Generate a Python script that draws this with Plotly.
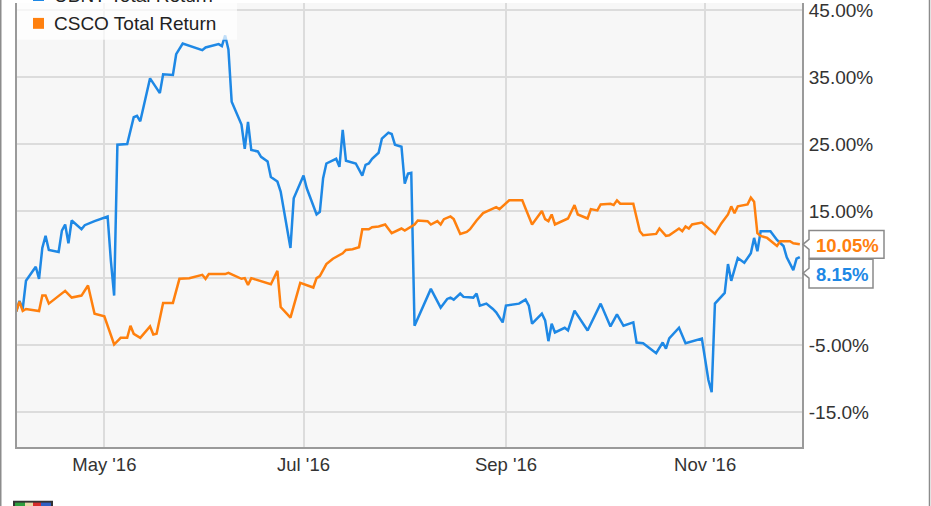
import plotly.graph_objects as go

# ---------------- data (total return, %) ----------------
other_name = "UBNT Total Return"
csco_name = "CSCO Total Return"

other_dates = [
    "2016-04-04", "2016-04-05", "2016-04-06", "2016-04-07", "2016-04-10", "2016-04-11",
    "2016-04-12", "2016-04-13", "2016-04-14", "2016-04-17", "2016-04-18", "2016-04-19",
    "2016-04-20", "2016-04-21", "2016-04-24", "2016-04-25", "2016-04-28", "2016-05-02",
    "2016-05-03", "2016-05-04", "2016-05-05", "2016-05-08", "2016-05-10", "2016-05-11",
    "2016-05-12", "2016-05-15", "2016-05-18", "2016-05-19", "2016-05-22", "2016-05-23",
    "2016-05-25", "2016-05-31", "2016-06-01", "2016-06-05", "2016-06-06", "2016-06-07",
    "2016-06-08", "2016-06-09", "2016-06-12", "2016-06-13", "2016-06-14", "2016-06-15",
    "2016-06-17", "2016-06-18", "2016-06-20", "2016-06-21", "2016-06-23", "2016-06-24",
    "2016-06-27", "2016-06-28", "2016-07-01", "2016-07-02", "2016-07-05", "2016-07-06",
    "2016-07-07", "2016-07-08", "2016-07-11", "2016-07-12", "2016-07-13", "2016-07-14",
    "2016-07-17", "2016-07-19", "2016-07-20", "2016-07-21", "2016-07-22", "2016-07-24",
    "2016-07-25", "2016-07-27", "2016-07-28", "2016-07-29", "2016-07-31", "2016-08-01",
    "2016-08-02", "2016-08-03", "2016-08-04", "2016-08-07", "2016-08-09", "2016-08-12",
    "2016-08-14", "2016-08-15", "2016-08-16", "2016-08-18", "2016-08-19", "2016-08-22",
    "2016-08-23", "2016-08-24", "2016-08-26", "2016-08-28", "2016-08-29", "2016-08-31",
    "2016-09-01", "2016-09-05", "2016-09-07", "2016-09-08", "2016-09-09", "2016-09-12",
    "2016-09-13", "2016-09-14", "2016-09-15", "2016-09-16", "2016-09-19", "2016-09-20",
    "2016-09-22", "2016-09-26", "2016-09-30", "2016-10-03", "2016-10-05", "2016-10-07",
    "2016-10-10", "2016-10-11", "2016-10-13", "2016-10-17", "2016-10-19", "2016-10-20",
    "2016-10-21", "2016-10-24", "2016-10-26", "2016-10-31", "2016-11-02", "2016-11-03",
    "2016-11-04", "2016-11-07", "2016-11-08", "2016-11-09", "2016-11-11", "2016-11-13",
    "2016-11-15", "2016-11-16", "2016-11-17", "2016-11-18", "2016-11-21", "2016-11-23",
    "2016-11-25", "2016-11-26", "2016-11-28", "2016-11-29", "2016-11-30",
]
other_values = [
    0.0, 1.6, 0.4, 4.6, 6.7, 4.9,
    9.5, 11.3, 9.2, 8.9, 12.1, 13.0,
    10.2, 13.6, 12.3, 12.9, 13.5, 14.2,
    7.6, 2.4, 24.9, 25.0, 29.0, 29.2,
    28.4, 34.8, 32.6, 35.4, 35.3, 38.4,
    40.0, 39.0, 39.4, 39.9, 39.6, 41.2,
    39.1, 31.3, 27.9, 24.3, 28.3, 24.1,
    23.9, 23.1, 22.4, 20.1, 19.4, 17.9,
    9.5, 16.9, 20.3, 18.4, 14.5, 14.9,
    19.9, 22.1, 22.8, 21.6, 27.1, 22.5,
    22.1, 20.3, 21.9, 22.1, 22.8, 23.7,
    25.8, 26.7, 26.5, 24.9, 24.6, 19.1,
    20.6, 20.7, -2.1, 1.2, 3.4, 0.6,
    1.9, 2.1, 1.8, 2.7, 2.2, 2.1,
    2.7, 0.9, 1.2, 0.4, -0.1, -1.6,
    0.9, 1.2, 1.8, 0.9, -1.8, -0.3,
    -1.3, -4.4, -1.8, -3.1, -2.4, -2.8,
    0.15, -2.8, 1.2, -2.2, -0.4, -2.1,
    -1.6, -4.6, -4.7, -6.2, -4.6, -5.5,
    -4.0, -2.4, -4.7, -4.0, -10.2, -12.0,
    1.2, 2.8, 7.1, 4.6, 8.0, 7.3,
    8.7, 11.0, 9.0, 12.0, 12.0, 10.7,
    9.8, 8.1, 6.2, 7.9, 8.15,
]

csco_dates = [
    "2016-04-04", "2016-04-05", "2016-04-06", "2016-04-07", "2016-04-11", "2016-04-12",
    "2016-04-13", "2016-04-14", "2016-04-19", "2016-04-21", "2016-04-24", "2016-04-26",
    "2016-04-28", "2016-05-01", "2016-05-04", "2016-05-06", "2016-05-08", "2016-05-09",
    "2016-05-10", "2016-05-12", "2016-05-15", "2016-05-16", "2016-05-17", "2016-05-19",
    "2016-05-22", "2016-05-24", "2016-05-27", "2016-05-31", "2016-06-01", "2016-06-02",
    "2016-06-07", "2016-06-08", "2016-06-12", "2016-06-13", "2016-06-14", "2016-06-15",
    "2016-06-21", "2016-06-23", "2016-06-24", "2016-06-27", "2016-06-30", "2016-07-04",
    "2016-07-05", "2016-07-06", "2016-07-08", "2016-07-10", "2016-07-13", "2016-07-14",
    "2016-07-16", "2016-07-18", "2016-07-19", "2016-07-21", "2016-07-22", "2016-07-24",
    "2016-07-26", "2016-07-28", "2016-07-31", "2016-08-01", "2016-08-04", "2016-08-05",
    "2016-08-08", "2016-08-09", "2016-08-11", "2016-08-12", "2016-08-13", "2016-08-15",
    "2016-08-16", "2016-08-18", "2016-08-20", "2016-08-21", "2016-08-23", "2016-08-24",
    "2016-08-25", "2016-08-29", "2016-08-30", "2016-09-02", "2016-09-06", "2016-09-07",
    "2016-09-09", "2016-09-12", "2016-09-13", "2016-09-14", "2016-09-15", "2016-09-16",
    "2016-09-20", "2016-09-22", "2016-09-23", "2016-09-26", "2016-09-27", "2016-09-29",
    "2016-09-30", "2016-10-03", "2016-10-04", "2016-10-05", "2016-10-06", "2016-10-10",
    "2016-10-12", "2016-10-13", "2016-10-17", "2016-10-18", "2016-10-20", "2016-10-21",
    "2016-10-24", "2016-10-25", "2016-10-26", "2016-10-27", "2016-10-28", "2016-10-31",
    "2016-11-02", "2016-11-04", "2016-11-06", "2016-11-08", "2016-11-09", "2016-11-10",
    "2016-11-11", "2016-11-14", "2016-11-15", "2016-11-16", "2016-11-17", "2016-11-18",
    "2016-11-20", "2016-11-23", "2016-11-24", "2016-11-27", "2016-11-28", "2016-11-30",
]
csco_values = [
    0.0, 1.5, 0.1, 0.4, 0.1, 2.4,
    2.4, 1.2, 3.1, 2.1, 2.4, 3.9,
    -0.3, -0.7, -4.9, -3.9, -3.9, -2.1,
    -3.3, -3.9, -2.2, -3.4, -3.3, 1.3,
    1.3, 4.9, 5.0, 5.5, 4.9, 5.6,
    5.6, 5.8, 4.9, 5.0, 4.0, 5.0,
    4.1, 6.1, 0.7, -0.9, 4.3, 3.6,
    5.0, 5.3, 7.1, 7.9, 8.7, 9.2,
    9.3, 9.6, 12.3, 12.3, 12.6, 12.7,
    13.0, 11.7, 12.4, 12.1, 13.0, 13.6,
    13.5, 13.0, 13.5, 13.0, 13.8, 14.2,
    13.8, 11.6, 11.9, 12.3, 13.6, 14.2,
    14.7, 15.6, 15.3, 16.6, 16.6, 15.4,
    13.0, 15.0, 13.8, 13.5, 14.5, 13.0,
    13.9, 15.9, 14.5, 13.9, 15.3, 15.1,
    16.0, 16.1, 15.9, 16.6, 16.1, 16.1,
    12.0, 11.4, 11.6, 12.4, 11.3, 11.4,
    12.4, 12.0, 12.7, 12.4, 13.0, 13.3,
    12.4, 11.6, 13.2, 14.5, 15.7, 14.7,
    15.7, 16.0, 17.0, 16.4, 11.7, 11.3,
    11.0, 9.8, 10.5, 10.5, 10.2, 10.05,
]

x_tick_vals = ["2016-05-01", "2016-07-01", "2016-09-01", "2016-11-01"]
x_tick_text = ["May '16", "Jul '16", "Sep '16", "Nov '16"]
y_tick_vals = [45, 35, 25, 15, 5, -5, -15]
y_tick_text = ["45.00%", "35.00%", "25.00%", "15.00%", "", "-5.00%", "-15.0%"]

other_last = "8.15%"
csco_last = "10.05%"

# ---------------- style ----------------
BLUE = "#1E88E5"
ORANGE = "#FF800E"
W, H = 931, 506
ML, MR, MT, MB = 17, 129, 0, 59
PW, PH = W - ML - MR, H - MT - MB
FONT = "Arial, Liberation Sans, sans-serif"


def px(xp):
    return (xp - ML) / PW


def py(yp):
    return 1 - (yp - MT) / PH


fig = go.Figure()
fig.add_trace(go.Scatter(x=other_dates, y=other_values, mode="lines", name=other_name,
                         line=dict(color=BLUE, width=2.5), showlegend=False))
fig.add_trace(go.Scatter(x=csco_dates, y=csco_values, mode="lines", name=csco_name,
                         line=dict(color=ORANGE, width=2.5), showlegend=False))

shapes = []
annotations = []

# legend box (semi-transparent, above traces)
shapes.append(dict(type="rect", xref="paper", yref="paper", x0=px(17), x1=px(237),
                   y0=py(37), y1=py(-40), fillcolor="rgba(255,255,255,0.72)",
                   line=dict(width=0), layer="above"))
for yc, col, name in [(-7.5, BLUE, other_name), (20.5, ORANGE, csco_name)]:
    shapes.append(dict(type="rect", xref="paper", yref="paper", x0=px(33), x1=px(44),
                       y0=py(yc + 5.5), y1=py(yc - 5.5), fillcolor=col,
                       line=dict(width=0), layer="above"))
    annotations.append(dict(xref="paper", yref="paper", x=px(52), y=py(yc), text=name,
                            showarrow=False, xanchor="left", yanchor="middle",
                            font=dict(family=FONT, size=19, color="#222222")))


# last-value callouts
def callout(top, bottom, left, right, tip_y, color, text):
    path = (f"M {px(left)},{py(top)} L {px(right)},{py(top)} L {px(right)},{py(bottom)} "
            f"L {px(left)},{py(bottom)} L {px(left)},{py(tip_y + 5)} L {px(803)},{py(tip_y)} "
            f"L {px(left)},{py(tip_y - 5)} Z")
    shapes.append(dict(type="path", xref="paper", yref="paper", path=path,
                       fillcolor="white", line=dict(color="#8a8a8a", width=1.5), layer="above"))
    annotations.append(dict(xref="paper", yref="paper", x=px(left + 5),
                            y=py((top + bottom) / 2 + 1), text=f"<b>{text}</b>",
                            showarrow=False, xanchor="left", yanchor="middle",
                            font=dict(family=FONT, size=18.5, color=color)))


callout(229, 257, 809, 884, 243, ORANGE, csco_last)
callout(258, 287, 809, 873, 272, BLUE, other_last)

# outer frame
for xp in (0.75, 929.5):
    shapes.append(dict(type="line", xref="paper", yref="paper", x0=px(xp), x1=px(xp),
                       y0=py(-5), y1=py(H + 5), line=dict(color="#8c8c8c", width=1.5)))

# small logo at bottom-left
for x0, x1, col in [(13, 53, "#333333"), (15, 25, "#2e9e3e"), (25, 33, "#e8d9a8"),
                    (33, 41, "#d62b2b"), (41, 51, "#2f5fc4")]:
    shapes.append(dict(type="rect", xref="paper", yref="paper", x0=px(x0), x1=px(x1),
                       y0=py(515), y1=py(501 if col == "#333333" else 503),
                       fillcolor=col, line=dict(width=0)))

fig.update_layout(
    width=W, height=H,
    margin=dict(l=ML, r=MR, t=MT, b=MB, pad=0),
    paper_bgcolor="white", plot_bgcolor="#F7F7F7",
    showlegend=False,
    font=dict(family=FONT, size=19, color="#333333"),
    shapes=shapes, annotations=annotations,
    xaxis=dict(type="date", range=["2016-04-04 06:00", "2016-11-30 16:00"],
               tickvals=x_tick_vals, ticktext=x_tick_text, showgrid=True,
               gridcolor="#DCDCDC", gridwidth=2, zeroline=False,
               showline=True, linecolor="#9a9a9a", linewidth=2, ticks="",
               ticklabelstandoff=0, ticklabeloverflow="allow",
               tickfont=dict(size=18.5, color="#333333")),
    yaxis=dict(range=[-20.185, 46.037], side="right", tickvals=y_tick_vals,
               ticktext=y_tick_text, showgrid=True, gridcolor="#DCDCDC", gridwidth=2,
               zeroline=False, showline=True, mirror=True, linecolor="#9a9a9a",
               linewidth=2, ticks="", ticklabelstandoff=1, ticklabeloverflow="allow",
               tickfont=dict(size=19, color="#333333")),
)

fig.write_html("out.html", config={"displayModeBar": False},
               post_script="document.body.style.margin='0px';")
